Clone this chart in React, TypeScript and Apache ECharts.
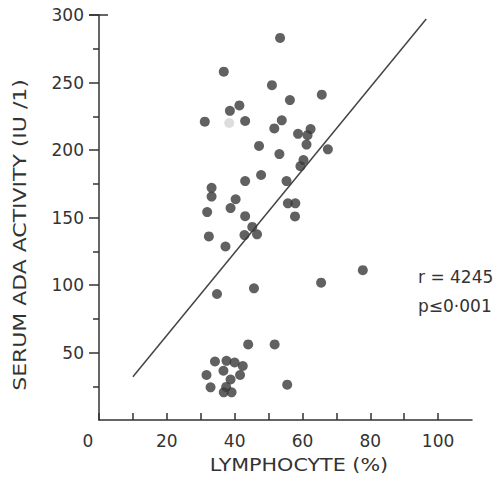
import React, { useEffect, useRef } from "react";
import * as echarts from "echarts";

const lymphocyte: number[] = [
  36.8, 53.4, 51, 56.3, 65.7, 38.6, 41.4, 31.2, 43.1, 53.9, 51.7, 58.7, 62.4, 61.5,
  61.2, 67.5, 47.2, 53.2, 60.3, 59.4, 43.1, 47.8, 55.3, 33.2, 33.2, 40.3, 38.8, 31.9,
  55.7, 57.9, 43.1, 57.8, 45.2, 46.6, 42.9, 32.4, 37.3, 34.8, 45.7, 65.5, 77.8, 44,
  51.8, 55.5, 34.2, 37.6, 40, 42.4, 36.7, 41.6, 31.7, 38.8, 32.9, 37.5, 36.8, 39.1,
];
const adaActivity: number[] = [
  258, 283, 248, 237, 241, 229, 233, 221, 221.5, 222, 216, 212, 215.5, 211,
  204, 200.5, 203, 197, 192.5, 188, 177, 181.5, 177, 172, 165.5, 163.5, 157, 154,
  160.5, 160.5, 151, 150.8, 143, 137.5, 137, 136, 128.5, 93.3, 97.5, 101.7, 111, 56,
  56, 26.2, 43.3, 43.8, 42.6, 40, 36.5, 33.3, 33.3, 30, 24.2, 24.5, 20.5, 20.5,
];
const fadedX: number[] = [38.4];
const fadedY: number[] = [220];
const regressionX: number[] = [10, 96.5];
const regressionY: number[] = [32, 297];
const xTicks: number[] = [0, 10, 20, 30, 40, 50, 60, 70, 80, 90, 100];
const xLabels: number[] = [0, 20, 40, 60, 80, 100];
const yLabels: number[] = [50, 100, 150, 200, 250, 300];
const statLines: string[] = ["r = 4245", "p≤0·001"];

const FONT = "DejaVu Sans";
const INK = "#333";

export default function App() {
  const ref = useRef<HTMLDivElement>(null);
  useEffect(() => {
    if (!ref.current) return;
    const chart = echarts.init(ref.current, undefined, { renderer: "svg" });
    const option: any = {
      animation: false,
      backgroundColor: "#fff",
      grid: { left: 99, right: 25, top: 15, bottom: 60, containLabel: false },
      xAxis: {
        type: "value",
        min: 0,
        max: 110,
        interval: 10,
        axisLine: { show: true, lineStyle: { color: INK, width: 1.5 } },
        axisTick: { show: true, inside: true, length: 7, customValues: xTicks, lineStyle: { color: INK, width: 1.5 } },
        axisLabel: {
          customValues: xLabels,
          margin: 12,
          color: INK,
          fontFamily: FONT,
          fontSize: 17,
          formatter: (v: number) => (v === 0 ? "{z|0}" : String(v)),
          rich: { z: { padding: [0, 22, 0, 0], color: INK, fontFamily: FONT, fontSize: 17 } },
        },
        splitLine: { show: false },
      },
      yAxis: {
        type: "value",
        min: 0,
        max: 300,
        interval: 50,
        axisLine: { show: true, lineStyle: { color: INK, width: 1.5 } },
        axisTick: { show: true, inside: false, length: 10, customValues: yLabels, lineStyle: { color: INK, width: 1.5 } },
        minorTick: { show: true, splitNumber: 2, length: 6, lineStyle: { color: INK, width: 1.5 } },
        axisLabel: { customValues: yLabels, margin: 15, color: INK, fontFamily: FONT, fontSize: 17 },
        splitLine: { show: false },
        minorSplitLine: { show: false },
      },
      series: [
        {
          type: "line",
          data: regressionX.map((x, i) => [x, regressionY[i]]),
          symbol: "none",
          lineStyle: { color: "#444", width: 1.5 },
          z: 1,
        },
        {
          type: "scatter",
          data: lymphocyte.map((x, i) => [x, adaActivity[i]]),
          symbolSize: 10,
          itemStyle: { color: "#3a3a3a" },
          z: 3,
        },
        {
          type: "scatter",
          data: fadedX.map((x, i) => [x, fadedY[i]]),
          symbolSize: 10,
          itemStyle: { color: "#d4d4d4" },
          z: 3,
        },
      ],
    };
    chart.setOption(option);
    const top = chart.convertToPixel({ gridIndex: 0 }, [0, 300]) as number[];
    chart.setOption({
      graphic: [
        {
          type: "line",
          shape: { x1: top[0] - 10, y1: top[1], x2: top[0] + 9, y2: top[1] },
          style: { stroke: INK, lineWidth: 1.5 },
        },
        {
          type: "text",
          x: 20,
          y: 235,
          rotation: Math.PI / 2,
          scaleX: 1.22,
          style: {
            text: "SERUM ADA ACTIVITY (IU /1)",
            fill: INK,
            font: `18px "${FONT}"`,
            align: "center",
            verticalAlign: "middle",
          },
        },
        {
          type: "text",
          x: 299,
          y: 465,
          scaleX: 1.15,
          style: {
            text: "LYMPHOCYTE (%)",
            fill: INK,
            font: `18px "${FONT}"`,
            align: "center",
            verticalAlign: "middle",
          },
        },
        {
          type: "text",
          x: 418,
          y: 277,
          style: { text: statLines[0], fill: INK, font: `17px "${FONT}"`, align: "left", verticalAlign: "middle" },
        },
        {
          type: "text",
          x: 418,
          y: 306,
          style: { text: statLines[1], fill: INK, font: `17px "${FONT}"`, align: "left", verticalAlign: "middle" },
        },
      ],
    });
    return () => chart.dispose();
  }, []);
  return (
    <div
      ref={ref}
      style={{ position: "absolute", left: 0, top: 0, width: 497, height: 480 }}
    />
  );
}
